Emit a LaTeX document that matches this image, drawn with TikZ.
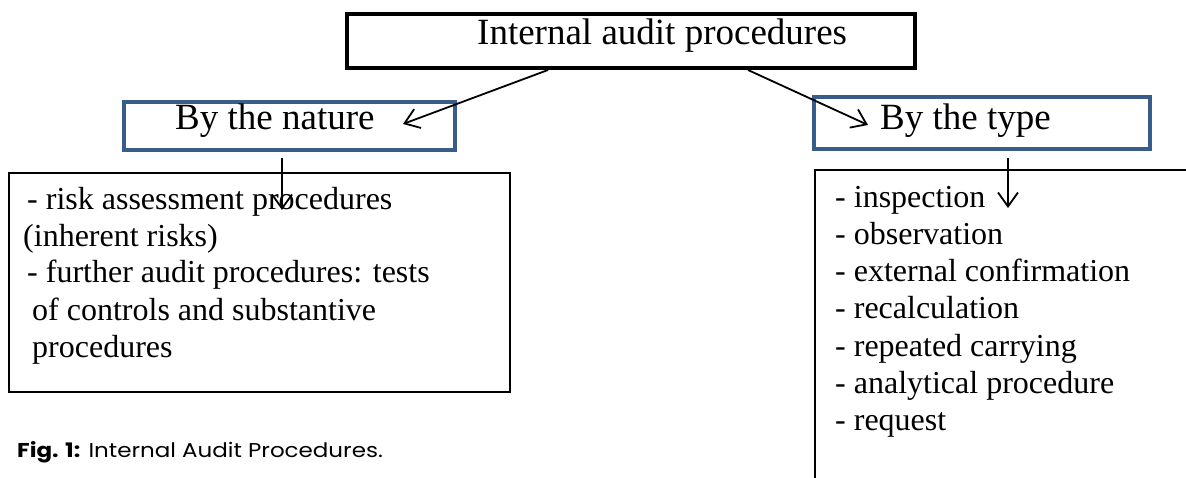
\documentclass[tikz,border=0pt]{standalone}
\usepackage{fontspec}
\setmainfont{Liberation Serif}
\newfontfamily\capfont{Poppins}
\usetikzlibrary{arrows.meta,calc}
\definecolor{boxblue}{RGB}{56,93,138}

\begin{document}
\begin{tikzpicture}[x=1pt,y=-1pt,
  headfont/.style={font=\fontsize{37}{40}\selectfont},
  listfont/.style={font=\fontsize{32}{36}\selectfont, inner sep=0pt, anchor=base west},
  framebox/.style={draw=black, line width=4pt, inner sep=0pt},
  bluebox/.style={draw=boxblue, line width=3.5pt, inner sep=0pt},
  listbox/.style={draw=black, line width=2pt, inner sep=0pt},
  link/.style={line width=1.8pt, -{Straight Barb[length=14pt,width=20pt,line width=1.8pt]}}
]
\useasboundingbox (0,0) rectangle (1186,478);

% boxes
\node[framebox, minimum width=568pt, minimum height=54pt] (top) at (631,41) {};
\node[bluebox, minimum width=331pt, minimum height=48pt] (nature) at (289.5,126) {};
\node[bluebox, minimum width=336pt, minimum height=52pt] (type) at (982,123) {};
\node[listbox, minimum width=501pt, minimum height=219pt] (natlist) at (259.5,282.5) {};
\node[inner sep=0pt, minimum width=371pt, minimum height=308pt] (typelist) at (1000.5,324) {};
\draw[line width=2pt] (typelist.north east) -- (typelist.north west) -- (typelist.south west);

% headings
\node[headfont, inner sep=0pt, anchor=base west] (toptxt) at (477,45) {Internal audit procedures};
\node[headfont, inner sep=0pt, anchor=base west] (nattxt) at (175,130) {By the nature};
\node[headfont, inner sep=0pt, anchor=base west] (typetxt) at (880,130) {By the type};

% left list
\node[listfont] (n1) at (27,210) {- risk assessment procedures};
\node[listfont] (n2) at (23,247) {(inherent risks)};
\node[listfont] (n3) at (27,283) {- further audit procedures: tests};
\node[listfont] (n4) at (32,320) {of controls and substantive};
\node[listfont] (n5) at (32,357) {procedures};

% right list
\foreach \t [count=\i] in {inspection, observation, external confirmation,
  recalculation, repeated carrying, analytical procedure, request}
  \node[listfont] (t\i) at (835,{208+37*(\i-1)}) {- \t};

% connectors
\coordinate (natTip) at (403,124);
\coordinate (typeTip) at (868,125);
\coordinate (natDownTop) at (282,158);
\coordinate (natDownTip) at (282,210);
\coordinate (typeDownTop) at (1008,158);
\coordinate (typeDownTip) at (1008,208);
\draw[link] ([xshift=-83pt]top.south) -- (natTip);
\draw[link] ([xshift=117pt]top.south) -- (typeTip);
\draw[link] (natDownTop) -- (natDownTip);
\draw[link] (typeDownTop) -- (typeDownTip);

% caption
\node[inner sep=0pt, anchor=base west, font=\capfont\fontsize{20}{24}\selectfont] (cap) at (17,457)
  {\scalebox{1.15}[1]{\textbf{Fig. 1:} Internal Audit Procedures.}};
\end{tikzpicture}
\end{document}
